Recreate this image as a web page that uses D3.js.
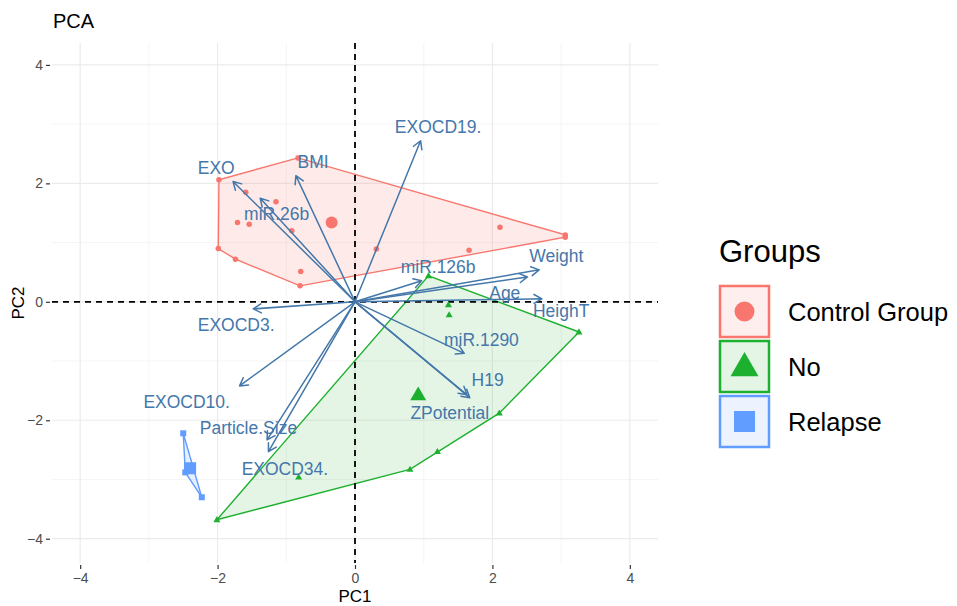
<!DOCTYPE html>
<html>
<head>
<meta charset="utf-8">
<script src="https://cdn.jsdelivr.net/npm/d3@7"></script>
<style>
  html, body { margin: 0; padding: 0; background: #fff; }
  svg { display: block; font-family: "Liberation Sans", Arial, sans-serif; }
</style>
</head>
<body>
<svg id="chart" width="957" height="606"></svg>
<script>
// Individuals (PC1, PC2) per group
const controlPC1 = [-1.98, -1.59, -1.15, -1.71, -1.54, -0.92, -1.99, -1.74, -0.79, -0.80, -0.83, 0.31, 2.11, 1.66, 3.06, 3.06];
const controlPC2 = [2.06, 1.85, 1.69, 1.34, 1.31, 1.20, 0.90, 0.72, 0.51, 0.27, 2.43, 0.89, 1.26, 0.87, 1.13, 1.09];
const noPC1 = [1.36, 1.37, 3.26, 2.10, 1.20, 0.80, -0.82, -2.01, 1.07];
const noPC2 = [-0.05, -0.22, -0.51, -1.88, -2.53, -2.83, -2.96, -3.68, 0.44];
const relapsePC1 = [-2.50, -2.47, -2.23];
const relapsePC2 = [-2.22, -2.88, -3.30];

// Group mean points
const groupNames = ["Control Group", "No", "Relapse"];
const groupColors = ["#F8766D", "#1DB02F", "#619CFF"];
const meanPC1 = [-0.34, 0.92, -2.40];
const meanPC2 = [1.34, -1.57, -2.81];

// Variable loadings (arrow tips) and their label positions
const varNames = ["EXO", "miR.26b", "BMI", "EXOCD19.", "miR.126b", "Weight", "HeighT", "Age",
                  "EXOCD3.", "EXOCD10.", "Particle.Size", "EXOCD34.", "miR.1290", "H19", "ZPotential"];
const varPC1 = [-1.775, -1.38, -0.86, 0.955, 0.97, 2.68, 2.51, 2.72, -1.48, -1.68, -1.28, -1.26, 1.59, 1.67, 1.63];
const varPC2 = [2.03, 1.75, 2.13, 2.72, 0.355, 0.54, 0.42, 0.05, -0.12, -1.42, -2.33, -2.53, -0.87, -1.62, -1.57];
const labelPC1 = [-2.02, -1.14, -0.61, 1.21, 1.21, 2.93, 3.00, 2.18, -1.73, -2.45, -1.55, -1.02, 1.84, 1.93, 1.38];
const labelPC2 = [2.26, 1.49, 2.36, 2.96, 0.60, 0.78, -0.15, 0.15, -0.39, -1.68, -2.12, -2.81, -0.64, -1.32, -1.88];

// Axis ticks
const majorTicks = [-4, -2, 0, 2, 4];
const minorTicks = [-3, -1, 1, 3];

const svg = d3.select("#chart");
const panel = { left: 52, right: 658, top: 43, bottom: 563 };

const x = d3.scaleLinear().domain([-4.41, 4.41]).range([panel.left, panel.right]);
const y = d3.scaleLinear().domain([-4.41, 4.37]).range([panel.bottom, panel.top]);

const varColor = "#4477AA";

// Grid
const grid = svg.append("g");
minorTicks.forEach(t => {
  grid.append("line").attr("x1", x(t)).attr("x2", x(t)).attr("y1", panel.top).attr("y2", panel.bottom)
    .attr("stroke", "#F2F2F2").attr("stroke-width", 0.8);
  grid.append("line").attr("y1", y(t)).attr("y2", y(t)).attr("x1", panel.left).attr("x2", panel.right)
    .attr("stroke", "#F2F2F2").attr("stroke-width", 0.8);
});
majorTicks.forEach(t => {
  grid.append("line").attr("x1", x(t)).attr("x2", x(t)).attr("y1", panel.top).attr("y2", panel.bottom)
    .attr("stroke", "#EBEBEB").attr("stroke-width", 1.2);
  grid.append("line").attr("y1", y(t)).attr("y2", y(t)).attr("x1", panel.left).attr("x2", panel.right)
    .attr("stroke", "#EBEBEB").attr("stroke-width", 1.2);
});

// Axes
const xAxis = d3.axisBottom(x).tickValues(majorTicks).tickSize(4).tickPadding(4);
const yAxis = d3.axisLeft(y).tickValues(majorTicks).tickSize(4).tickPadding(3);
const gx = svg.append("g").attr("transform", `translate(0,${panel.bottom + 2})`).call(xAxis);
const gy = svg.append("g").attr("transform", `translate(${panel.left - 2},0)`).call(yAxis);
[gx, gy].forEach(g => {
  g.select(".domain").remove();
  g.selectAll(".tick line").attr("stroke", "#333").attr("stroke-width", 1.2);
  g.selectAll(".tick text").attr("fill", "#4D4D4D").style("font-size", "14px")
    .style("font-family", "'Liberation Sans', Arial, sans-serif");
});

// Group hulls
const groupsData = [
  { pc1: controlPC1, pc2: controlPC2 },
  { pc1: noPC1, pc2: noPC2 },
  { pc1: relapsePC1, pc2: relapsePC2 }
];
const hullLayer = svg.append("g");
groupsData.forEach((g, i) => {
  const pts = g.pc1.map((v, k) => [x(v), y(g.pc2[k])]);
  const hull = d3.polygonHull(pts);
  hullLayer.append("path")
    .attr("d", "M" + hull.map(p => p.join(",")).join("L") + "Z")
    .attr("fill", groupColors[i]).attr("fill-opacity", i === 1 ? 0.12 : 0.15)
    .attr("stroke", groupColors[i]).attr("stroke-width", 1.4);
});

// Reference lines at zero
svg.append("line").attr("x1", panel.left).attr("x2", panel.right).attr("y1", y(0)).attr("y2", y(0))
  .attr("stroke", "#000").attr("stroke-width", 1.8).attr("stroke-dasharray", "6,5");
svg.append("line").attr("x1", x(0)).attr("x2", x(0)).attr("y1", panel.top).attr("y2", panel.bottom)
  .attr("stroke", "#000").attr("stroke-width", 1.8).attr("stroke-dasharray", "6,5");

// Symbol shapes per group
function drawShape(sel, i, cx, cy, size) {
  const c = groupColors[i];
  if (i === 0) {
    sel.append("circle").attr("cx", cx).attr("cy", cy).attr("r", size / 2).attr("fill", c);
  } else if (i === 1) {
    const h = size * 0.87;
    sel.append("path")
      .attr("d", `M${cx},${cy - h * 0.6}L${cx + size / 2},${cy + h * 0.4}L${cx - size / 2},${cy + h * 0.4}Z`)
      .attr("fill", c);
  } else {
    sel.append("rect").attr("x", cx - size / 2).attr("y", cy - size / 2)
      .attr("width", size).attr("height", size).attr("fill", c);
  }
}

// Individual points
const ptLayer = svg.append("g");
groupsData.forEach((g, i) => {
  g.pc1.forEach((v, k) => {
    drawShape(ptLayer, i, x(v), y(g.pc2[k]), i === 1 ? 7 : (i === 2 ? 6 : 5.5));
  });
});
// Group means
groupNames.forEach((n, i) => {
  drawShape(ptLayer, i, x(meanPC1[i]), y(meanPC2[i]), i === 1 ? 16 : 12);
});

// Variable arrows
const arrowLayer = svg.append("g");
varNames.forEach((n, i) => {
  const x0 = x(0), y0 = y(0), x1 = x(varPC1[i]), y1 = y(varPC2[i]);
  const ang = Math.atan2(y1 - y0, x1 - x0);
  const L = 9, spread = Math.PI / 6;
  const a1 = [x1 - L * Math.cos(ang - spread), y1 - L * Math.sin(ang - spread)];
  const a2 = [x1 - L * Math.cos(ang + spread), y1 - L * Math.sin(ang + spread)];
  arrowLayer.append("path")
    .attr("d", `M${x0},${y0}L${x1},${y1}M${a1[0]},${a1[1]}L${x1},${y1}L${a2[0]},${a2[1]}`)
    .attr("fill", "none").attr("stroke", varColor).attr("stroke-width", 1.5)
    .attr("stroke-linejoin", "round").attr("stroke-linecap", "round");
});
// Variable labels
varNames.forEach((n, i) => {
  arrowLayer.append("text")
    .attr("x", x(labelPC1[i])).attr("y", y(labelPC2[i]))
    .attr("dy", "0.36em").attr("text-anchor", "middle")
    .attr("fill", varColor).style("font-size", "17.5px")
    .text(n);
});

// Titles
svg.append("text").attr("x", 53).attr("y", 28).style("font-size", "20px").attr("fill", "#000").text("PCA");
svg.append("text").attr("x", x(0)).attr("y", 602).attr("text-anchor", "middle")
  .style("font-size", "17px").attr("fill", "#000").text("PC1");
svg.append("text").attr("transform", `translate(24,${(panel.top + panel.bottom) / 2}) rotate(-90)`)
  .attr("text-anchor", "middle").style("font-size", "17px").attr("fill", "#000").text("PC2");

// Legend
const legend = svg.append("g");
legend.append("text").attr("x", 719).attr("y", 262).style("font-size", "31px").attr("fill", "#000").text("Groups");
groupNames.forEach((n, i) => {
  const top = 286 + i * 55;
  legend.append("rect").attr("x", 720).attr("y", top).attr("width", 49).attr("height", 51)
    .attr("fill", groupColors[i]).attr("fill-opacity", 0.12)
    .attr("stroke", groupColors[i]).attr("stroke-width", 2.5);
  drawShape(legend, i, 744.5, top + 25.5, i === 0 ? 20 : (i === 1 ? 28 : 21));
  legend.append("text").attr("x", 788).attr("y", top + 25.5).attr("dy", "0.36em")
    .style("font-size", "25.5px").attr("fill", "#000").text(n);
});
</script>
</body>
</html>
